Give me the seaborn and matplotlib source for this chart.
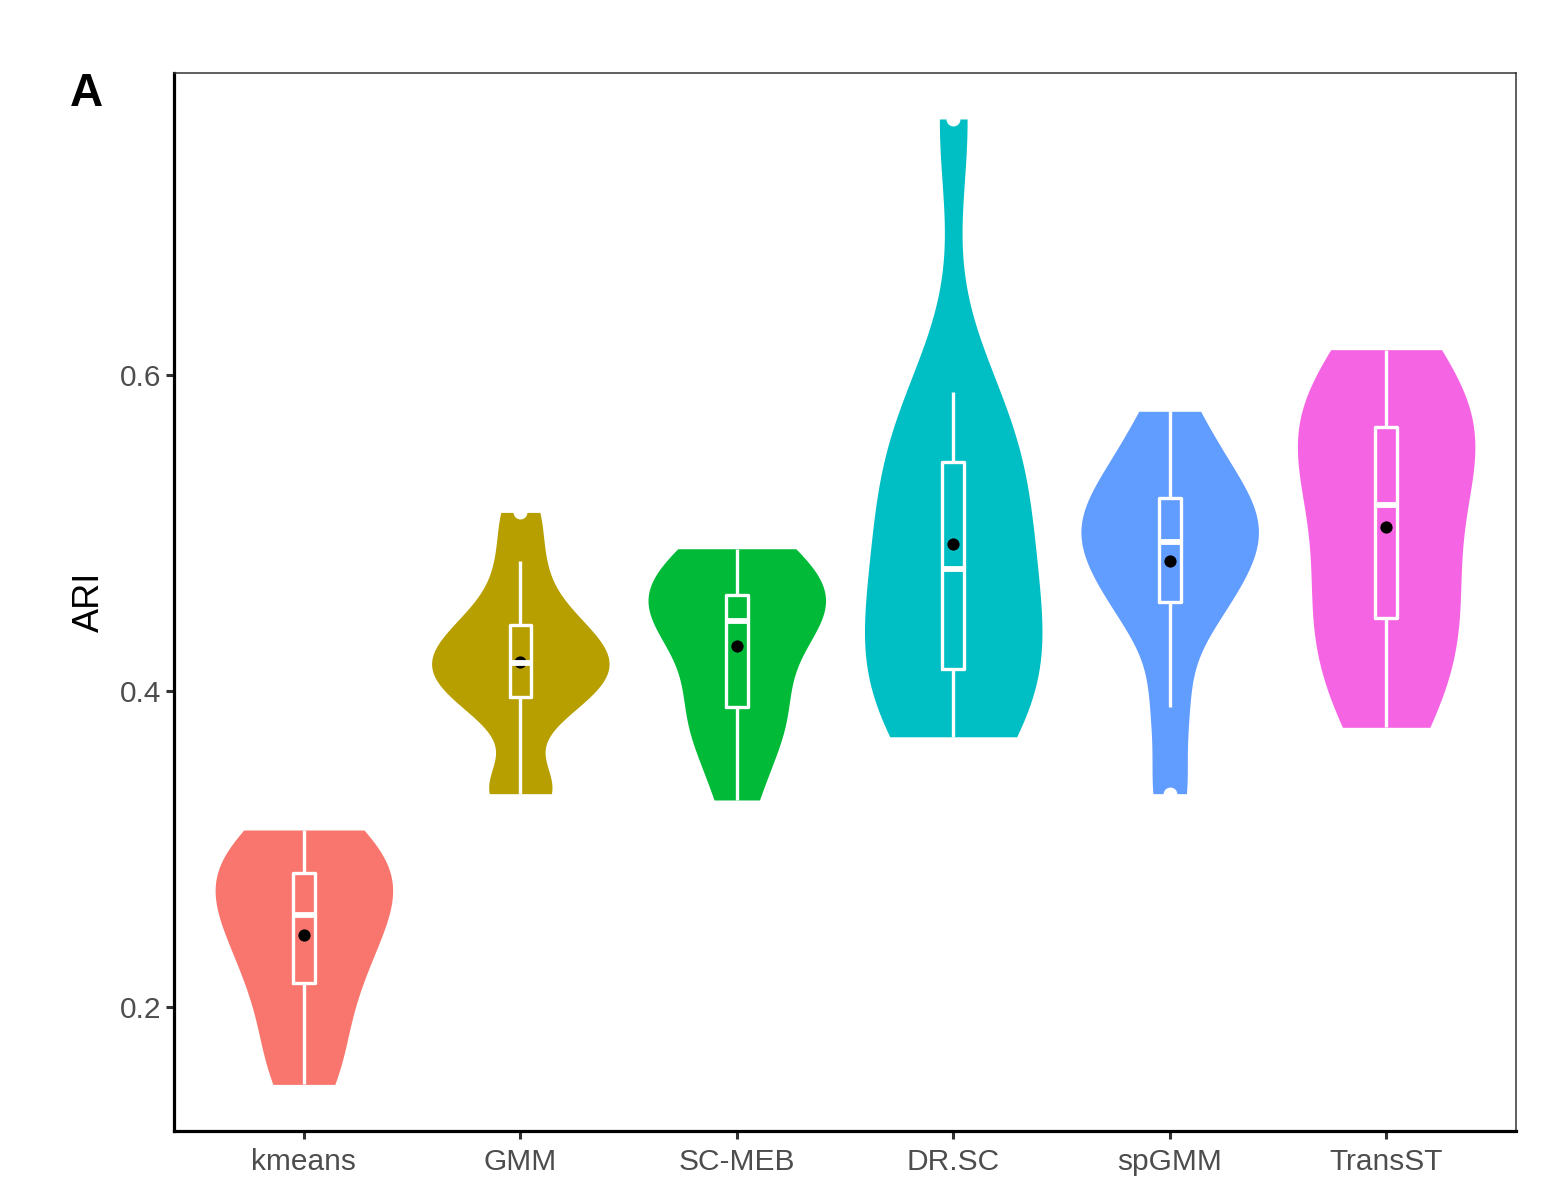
import numpy as np
import pandas as pd
import matplotlib
matplotlib.use("Agg")
import matplotlib.pyplot as plt
import seaborn as sns

# ---- data ----
methods = ["kmeans", "GMM", "SC-MEB", "DR.SC", "spGMM", "TransST"]
colors = ["#F8766D", "#B79F00", "#00BA38", "#00BFC4", "#619CFF", "#F564E3"]

ari_kmeans = [0.151, 0.175, 0.205, 0.225, 0.240, 0.258, 0.268, 0.278, 0.292, 0.300, 0.312]
ari_gmm = [0.335, 0.340, 0.385, 0.396, 0.405, 0.412, 0.418, 0.424, 0.432, 0.442, 0.455, 0.482, 0.513]
ari_scmeb = [0.331, 0.365, 0.380, 0.390, 0.410, 0.435, 0.444, 0.450, 0.456, 0.461, 0.475, 0.482, 0.490]
ari_drsc = [0.371, 0.385, 0.400, 0.414, 0.430, 0.450, 0.477, 0.500, 0.520, 0.545, 0.565, 0.589, 0.762]
ari_spgmm = [0.335, 0.390, 0.440, 0.456, 0.470, 0.485, 0.494, 0.502, 0.510, 0.522, 0.535, 0.550, 0.577]
ari_transst = [0.377, 0.400, 0.425, 0.446, 0.462, 0.485, 0.518, 0.530, 0.552, 0.567, 0.578, 0.595, 0.616]

yticks = [0.2, 0.4, 0.6]
ytick_labels = ["0.2", "0.4", "0.6"]

series = [ari_kmeans, ari_gmm, ari_scmeb, ari_drsc, ari_spgmm, ari_transst]
df = pd.DataFrame({
    "method": np.concatenate([[m] * len(v) for m, v in zip(methods, series)]),
    "ARI": np.concatenate(series),
})


def nrd0(kde):
    """R's bw.nrd0 rule, expressed as a gaussian_kde factor."""
    x = np.asarray(kde.dataset).ravel()
    sd = x.std(ddof=1)
    q75, q25 = np.percentile(x, [75, 25])
    lo = min(sd, (q75 - q25) / 1.34)
    bw = 0.9 * lo * len(x) ** -0.2
    return bw / sd


sns.set_theme(style="white")
plt.rcParams["font.family"] = ["Liberation Sans", "DejaVu Sans"]

W, H = 1544, 1185
fig = plt.figure(figsize=(W / 100, H / 100), dpi=100)
ax = fig.add_axes([174 / W, 1 - 1131 / H, (1516 - 174) / W, (1131 - 73) / H])

sns.violinplot(data=df, x="method", y="ARI", hue="method", order=methods,
               hue_order=methods, palette=colors, legend=False, cut=0,
               inner=None, density_norm="width", width=0.82, linewidth=0,
               saturation=1, bw_method=nrd0, bw_adjust=1.0, ax=ax)

sns.boxplot(data=df, x="method", y="ARI", order=methods, width=0.1,
            fill=False, color="white", linewidth=2.4, showcaps=False,
            whis=1.5,
            flierprops=dict(marker="o", markerfacecolor="white",
                            markeredgecolor="white", markersize=9),
            medianprops=dict(color="white", linewidth=4.2),
            whiskerprops=dict(color="white"),
            boxprops=dict(color="white"),
            ax=ax)

sns.pointplot(data=df, x="method", y="ARI", order=methods, estimator="mean",
              errorbar=None, linestyle="none", color="black", marker="o",
              markersize=8.8, markeredgewidth=0, ax=ax)

ax.set_xlim(-0.6, 5.6)
ax.set_ylim(0.1215, 0.7911)
ax.set_yticks(yticks)
ax.set_yticklabels(ytick_labels)
ax.set_xlabel("")
ax.set_ylabel("ARI", fontsize=26, color="black")
ax.yaxis.set_label_coords(-0.050, 0.5)

for s in ["top", "right"]:
    ax.spines[s].set_linewidth(1.1)
    ax.spines[s].set_color("#333333")
for s in ["left", "bottom"]:
    ax.spines[s].set_linewidth(2.3)
    ax.spines[s].set_color("black")

ax.tick_params(axis="both", which="major", length=6, width=2.2,
               color="#333333", labelsize=21.5, labelcolor="#4D4D4D",
               left=True, bottom=True)
ax.tick_params(axis="x", pad=6.5)
ax.tick_params(axis="y", pad=3)
ax.grid(False)

fig.text(70 / W, 1 - 72 / H, "A", fontsize=33, fontweight="bold",
         ha="left", va="top", color="black")

fig.savefig("out.png", dpi=100)
